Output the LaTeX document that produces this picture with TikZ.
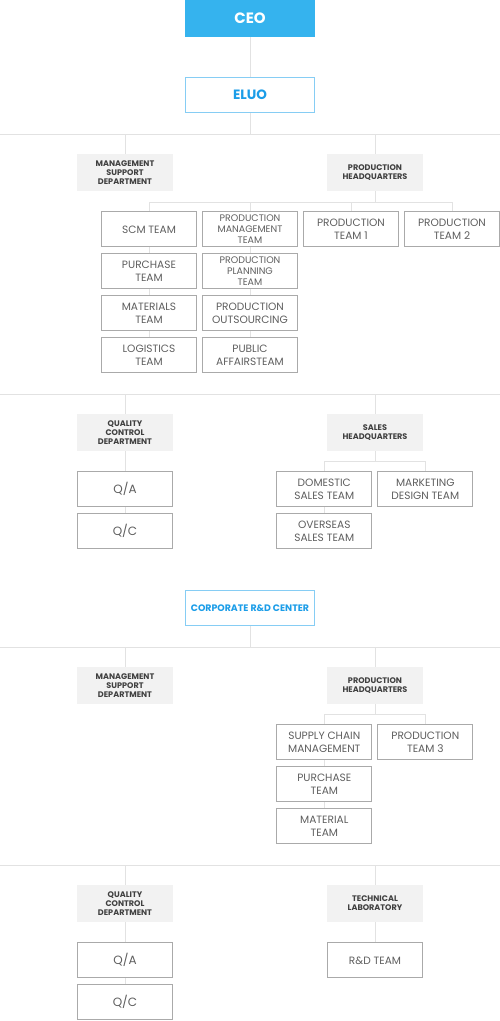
\documentclass[tikz,border=0pt]{standalone}
\usepackage{fontspec}
\setmainfont{Poppins}
\usetikzlibrary{positioning, calc}
\definecolor{ceoblue}{HTML}{35B3EE}
\definecolor{lineblue}{HTML}{86CDF4}
\definecolor{textblue}{HTML}{1B9DE8}
\definecolor{deptgray}{HTML}{F2F2F2}
\definecolor{boxgray}{HTML}{AAAAAA}
\definecolor{wiregray}{HTML}{E2E2E2}
\definecolor{teamtext}{HTML}{5E5E5E}
\tikzset{
	ceobox/.style={fill=ceoblue, minimum width=130pt, minimum height=37pt, inner sep=0pt,
		font=\fontsize{15}{17}\selectfont\bfseries\color{white}}
}
\tikzset{
	unitbox/.style={draw=lineblue, line width=0.8pt, fill=white, minimum width=129pt,
		minimum height=35pt, inner sep=0pt, text=textblue}
}
\tikzset{
	deptbox/.style={fill=deptgray, minimum width=96pt, minimum height=37pt, inner sep=0pt,
		align=center, font=\fontsize{8.1}{9}\selectfont\bfseries\color{black!75}}
}
\tikzset{
	teambox/.style={draw=boxgray, line width=0.7pt, minimum width=95pt, minimum height=35pt,
		inner sep=0pt, align=center, font=\fontsize{10.6}{12.3}\selectfont\color{teamtext}}
}
\tikzset{
	threeline/.style={font=\fontsize{9.5}{11}\selectfont\color{teamtext}}
}
\tikzset{
	qbox/.style={font=\fontsize{12}{14}\selectfont\color{teamtext}}
}
\tikzset{
	wire/.style={draw=wiregray, line width=0.9pt}
}

\begin{document}
\begin{tikzpicture}[x=1pt, y=-1pt]
      \useasboundingbox (0,0) rectangle (500,1021);
      % top of the chart
      \node[ceobox] (ceo) at (250,18.5) {CEO};
      \node[unitbox, font=\fontsize{13.5}{15}\selectfont\bfseries] (eluo) at (250,95) {ELUO};
      \draw[wire] (ceo.south) -- (eluo.north);
      % first row of departments
      \coordinate (busAL) at (0,134);
      \coordinate (busAR) at (500,134);
      \node[deptbox] (msdA) at (125,172.5) {MANAGEMENT\\SUPPORT\\DEPARTMENT};
      \node[deptbox] (phqA) at (375,172.5) {PRODUCTION\\HEADQUARTERS};
      \draw[wire] (eluo.south) -- (eluo |- busAL);
      \draw[wire] (busAL) -- (busAR);
      \draw[wire] (msdA |- busAL) -- (msdA.north);
      \draw[wire] (phqA |- busAL) -- (phqA.north);
      % production teams
      \coordinate (tbusA) at (0,202);
      \node[teambox] (scmA) at (149,229.3) {SCM TEAM};
      \node[teambox] (purA) at (149,271.3) {PURCHASE\\TEAM};
      \node[teambox] (matA) at (149,313.3) {MATERIALS\\TEAM};
      \node[teambox] (logA) at (149,355.3) {LOGISTICS\\TEAM};
      \node[teambox, threeline] (pmgA) at (250,229.3) {PRODUCTION\\MANAGEMENT\\TEAM};
      \node[teambox, threeline] (pplA) at (250,271.3) {PRODUCTION\\PLANNING\\TEAM};
      \node[teambox] (pouA) at (250,313.3) {PRODUCTION\\OUTSOURCING};
      \node[teambox] (pubA) at (250,355.3) {PUBLIC\\AFFAIRSTEAM};
      \node[teambox] (pt1) at (351,229.3) {PRODUCTION\\TEAM 1};
      \node[teambox] (pt2) at (452,229.3) {PRODUCTION\\TEAM 2};
      \draw[wire] (phqA.south) -- (phqA |- tbusA);
      \draw[wire] (scmA |- tbusA) -- (pt2 |- tbusA);
      \foreach \t in {scmA, pmgA, pt1, pt2}
        \draw[wire] (\t |- tbusA) -- (\t.north);
      \draw[wire] (scmA) -- (purA) (purA) -- (matA) (matA) -- (logA);
      \draw[wire] (pmgA) -- (pplA) (pplA) -- (pouA) (pouA) -- (pubA);
      % second row of departments
      \coordinate (busBL) at (0,394);
      \coordinate (busBR) at (500,394);
      \node[deptbox] (qcdA) at (125,432.5) {QUALITY\\CONTROL\\DEPARTMENT};
      \node[deptbox] (shq) at (375,432.5) {SALES\\HEADQUARTERS};
      \draw[wire] (busBL) -- (busBR);
      \draw[wire] (qcdA |- busBL) -- (qcdA.north);
      \draw[wire] (shq |- busBL) -- (shq.north);
      \node[teambox, qbox] (qaA) at (125,489.3) {Q/A};
      \node[teambox, qbox] (qcA) at (125,531.3) {Q/C};
      \draw[wire] (qcdA.south) -- (qaA.north);
      \draw[wire] (qaA) -- (qcA);
      % sales teams
      \coordinate (sbus) at (0,461);
      \node[teambox] (dom) at (324.3,489.3) {DOMESTIC\\SALES TEAM};
      \node[teambox] (mkt) at (425.3,489.3) {MARKETING\\DESIGN TEAM};
      \node[teambox] (ovs) at (324.3,531.3) {OVERSEAS\\SALES TEAM};
      \draw[wire] (shq.south) -- (shq |- sbus);
      \draw[wire] (dom |- sbus) -- (mkt |- sbus);
      \draw[wire] (dom |- sbus) -- (dom.north);
      \draw[wire] (mkt |- sbus) -- (mkt.north);
      \draw[wire] (dom) -- (ovs);
      % R&D center
      \node[unitbox, font=\fontsize{9.4}{11}\selectfont\bfseries] (rdc) at (250,608.3) {CORPORATE R\&D CENTER};
      \coordinate (busCL) at (0,647.3);
      \coordinate (busCR) at (500,647.3);
      \node[deptbox] (msdB) at (125,685.5) {MANAGEMENT\\SUPPORT\\DEPARTMENT};
      \node[deptbox] (phqB) at (375,685.5) {PRODUCTION\\HEADQUARTERS};
      \draw[wire] (rdc.south) -- (rdc |- busCL);
      \draw[wire] (busCL) -- (busCR);
      \draw[wire] (msdB |- busCL) -- (msdB.north);
      \draw[wire] (phqB |- busCL) -- (phqB.north);
      % R&D production teams
      \coordinate (pbus) at (0,714.3);
      \node[teambox] (scmB) at (324.3,742.3) {SUPPLY CHAIN\\MANAGEMENT};
      \node[teambox] (pt3) at (425.3,742.3) {PRODUCTION\\TEAM 3};
      \node[teambox] (purB) at (324.3,784.3) {PURCHASE\\TEAM};
      \node[teambox] (matB) at (324.3,826.3) {MATERIAL\\TEAM};
      \draw[wire] (phqB.south) -- (phqB |- pbus);
      \draw[wire] (scmB |- pbus) -- (pt3 |- pbus);
      \draw[wire] (scmB |- pbus) -- (scmB.north);
      \draw[wire] (pt3 |- pbus) -- (pt3.north);
      \draw[wire] (scmB) -- (purB) (purB) -- (matB);
      % last row of departments
      \coordinate (busDL) at (0,865);
      \coordinate (busDR) at (500,865);
      \node[deptbox] (qcdB) at (125,903.3) {QUALITY\\CONTROL\\DEPARTMENT};
      \node[deptbox] (tlab) at (375,903.3) {TECHNICAL\\LABORATORY};
      \draw[wire] (busDL) -- (busDR);
      \draw[wire] (qcdB |- busDL) -- (qcdB.north);
      \draw[wire] (tlab |- busDL) -- (tlab.north);
      \node[teambox, qbox] (qaB) at (125,960.3) {Q/A};
      \node[teambox, qbox] (qcB) at (125,1002.3) {Q/C};
      \node[teambox] (rdt) at (375,960.3) {R\&D TEAM};
      \draw[wire] (qcdB.south) -- (qaB.north);
      \draw[wire] (qaB) -- (qcB);
      \draw[wire] (tlab.south) -- (rdt.north);
    \end{tikzpicture}
\end{document}
